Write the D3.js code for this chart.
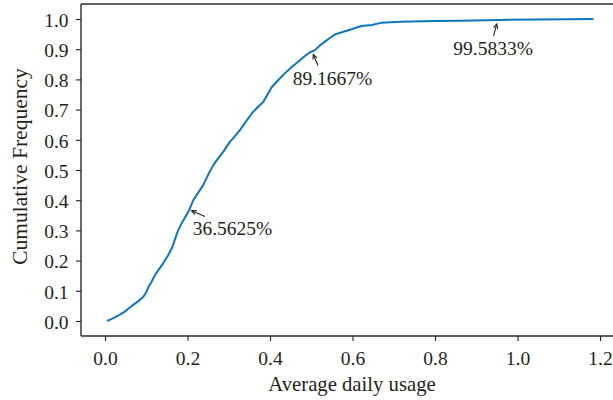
<!DOCTYPE html>
<html>
<head>
<meta charset="utf-8">
<script src="https://cdn.jsdelivr.net/npm/d3@7"></script>
<style>
  html, body { margin: 0; padding: 0; background: #fff; }
  svg { display: block; }
</style>
</head>
<body>
<svg id="chart" width="613" height="400"></svg>
<script>
// ---- data ----
const usage = [0.005, 0.015, 0.024, 0.035, 0.048, 0.058, 0.065, 0.08, 0.093, 0.1,
  0.105, 0.113, 0.121, 0.131, 0.141, 0.152, 0.162, 0.169, 0.176, 0.183,
  0.19, 0.204, 0.214, 0.226, 0.238, 0.25, 0.263, 0.275, 0.287, 0.303,
  0.315, 0.327, 0.342, 0.356, 0.37, 0.384, 0.394, 0.404, 0.42, 0.436,
  0.452, 0.469, 0.483, 0.497, 0.509, 0.521, 0.533, 0.546, 0.558, 0.578,
  0.598, 0.61, 0.622, 0.647, 0.671, 0.715, 0.8, 0.861, 0.958, 1.05, 1.184];
const cumFreq = [0.0, 0.006, 0.012, 0.02, 0.031, 0.042, 0.05, 0.065, 0.08, 0.095,
  0.112, 0.13, 0.152, 0.172, 0.191, 0.215, 0.241, 0.268, 0.296, 0.316,
  0.334, 0.367, 0.40, 0.425, 0.45, 0.484, 0.517, 0.54, 0.561, 0.594,
  0.612, 0.632, 0.661, 0.688, 0.708, 0.726, 0.75, 0.774, 0.798, 0.82,
  0.84, 0.859, 0.876, 0.89, 0.897, 0.912, 0.925, 0.938, 0.949, 0.958,
  0.966, 0.972, 0.977, 0.98, 0.988, 0.991, 0.993, 0.994, 0.997, 0.998, 1.0];
const xTicks = [0.0, 0.2, 0.4, 0.6, 0.8, 1.0, 1.2];
const yTicks = [0.0, 0.1, 0.2, 0.3, 0.4, 0.5, 0.6, 0.7, 0.8, 0.9, 1.0];
const annotX = [0.206, 0.503, 0.948];
const annotY = [0.365625, 0.891667, 0.995833];
const annotLabels = ["36.5625%", "89.1667%", "99.5833%"];
const xLabel = "Average daily usage";
const yLabel = "Cumulative Frequency";

// ---- layout / style ----
const mLeft = 81, mRight = 613, mTop = 4, mBottom = 336;
const font = "'Liberation Serif', 'Times New Roman', serif";
const ink = "#231f20";
const lineColor = "#0a78c0";
// annotation layout offsets (px): head offset, tail offset, text offset relative to point
const annotLayout = [
  { head: [1.7, 0.2], tail: [15, 6], text: [2.7, 24.5] },
  { head: [0.8, 2.8], tail: [5.5, 13.8], text: [-19.8, 33.3] },
  { head: [0.7, 3.7], tail: [-2.5, 15.7], text: [-42.7, 34.7] }
];

const svg = d3.select("#chart");
const x = d3.scaleLinear().domain([-0.0582, 1.2315]).range([mLeft, mRight]);
const y = d3.scaleLinear().domain([-0.0497, 1.0497]).range([mBottom, mTop]);

// axes
const xAxis = d3.axisBottom(x).tickValues(xTicks).tickFormat(d3.format(".1f"))
  .tickSizeInner(5).tickSizeOuter(0).tickPadding(8);
const yAxis = d3.axisLeft(y).tickValues(yTicks).tickFormat(d3.format(".1f"))
  .tickSizeInner(5).tickSizeOuter(0).tickPadding(8);

const gx = svg.append("g").attr("transform", `translate(0,${mBottom})`).call(xAxis);
const gy = svg.append("g").attr("transform", `translate(${mLeft},0)`).call(yAxis);
[gx, gy].forEach(g => {
  g.select(".domain").remove();
  g.selectAll(".tick line").attr("stroke", ink).attr("stroke-width", 1.1);
  g.selectAll(".tick text").attr("fill", ink).style("font-family", font).style("font-size", "19.5px");
});
gx.selectAll(".tick text").attr("y", 29).attr("dy", "0");
gy.selectAll(".tick text").attr("x", -12.5).attr("dy", "0.37em");

// spines
const spine = svg.append("g").attr("stroke", "#2b2b2b").attr("stroke-width", 1.4).attr("fill", "none");
spine.append("line").attr("x1", mLeft).attr("x2", mLeft).attr("y1", mTop).attr("y2", mBottom);
spine.append("line").attr("x1", mLeft).attr("x2", mRight).attr("y1", mBottom).attr("y2", mBottom);
spine.append("line").attr("x1", mLeft).attr("x2", mRight).attr("y1", mTop).attr("y2", mTop);

// curve
const pts = usage.map((u, i) => [u, cumFreq[i]]);
const line = d3.line().x(d => x(d[0])).y(d => y(d[1])).curve(d3.curveLinear);
svg.append("path").datum(pts)
  .attr("d", line)
  .attr("fill", "none")
  .attr("stroke", lineColor)
  .attr("stroke-width", 2)
  .attr("stroke-linejoin", "round");

// annotations
const ag = svg.append("g");
annotX.forEach((ax, i) => {
  const px = x(ax), py = y(annotY[i]);
  const L = annotLayout[i];
  const hx = px + L.head[0], hy = py + L.head[1];
  const tx = px + L.tail[0], ty = py + L.tail[1];
  ag.append("line").attr("x1", tx).attr("y1", ty).attr("x2", hx).attr("y2", hy)
    .attr("stroke", ink).attr("stroke-width", 1.1);
  const ang = Math.atan2(hy - ty, hx - tx);
  const hl = 5, hw = 0.45;
  const p1 = [hx - hl * Math.cos(ang - hw), hy - hl * Math.sin(ang - hw)];
  const p2 = [hx - hl * Math.cos(ang + hw), hy - hl * Math.sin(ang + hw)];
  ag.append("path").attr("d", `M${p1}L${hx},${hy}L${p2}`)
    .attr("fill", "none").attr("stroke", ink).attr("stroke-width", 1.1);
  ag.append("text").attr("x", px + L.text[0]).attr("y", py + L.text[1])
    .attr("fill", ink).style("font-family", font).style("font-size", "19.5px")
    .text(annotLabels[i]);
});

// axis labels
svg.append("text").attr("x", 352).attr("y", 391)
  .attr("text-anchor", "middle").attr("fill", ink)
  .style("font-family", font).style("font-size", "20.7px").text(xLabel);
svg.append("text").attr("transform", `translate(27,166.5) rotate(-90)`)
  .attr("text-anchor", "middle").attr("fill", ink)
  .style("font-family", font).style("font-size", "21.5px").text(yLabel);
</script>
</body>
</html>
